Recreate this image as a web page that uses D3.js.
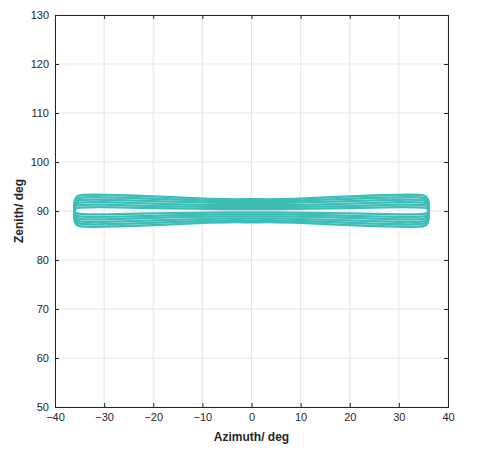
<!DOCTYPE html>
<html><head><meta charset="utf-8">
<script src="https://d3js.org/d3.v7.min.js"></script>
<style>body{margin:0;background:#fff}text{font-family:"Liberation Sans",Arial,sans-serif}</style>
</head><body>
<script>
// azimuth stations shared by all loops
var azimuths = [-36, -35, -30, -20, -12, -5, 0, 5, 12, 20, 30, 35, 36];
// zenith of upper edge for each loop
var upperLoops = [
  [92.0, 93.2, 93.3, 93.0, 92.6, 92.4, 92.4, 92.4, 92.6, 93.0, 93.3, 93.2, 92.0],
  [91.7, 92.7, 92.8, 92.5, 92.2, 92.0, 92.0, 92.0, 92.2, 92.5, 92.8, 92.7, 91.7],
  [91.3, 92.2, 92.3, 92.0, 91.8, 91.6, 91.6, 91.6, 91.8, 92.0, 92.3, 92.2, 91.3],
  [91.0, 91.7, 91.8, 91.5, 91.3, 91.2, 91.2, 91.2, 91.3, 91.5, 91.8, 91.7, 91.0],
  [90.7, 91.2, 91.3, 91.0, 90.9, 90.8, 90.8, 90.8, 90.9, 91.0, 91.3, 91.2, 90.7],
  [90.3, 90.7, 90.8, 90.6, 90.5, 90.4, 90.4, 90.4, 90.5, 90.6, 90.8, 90.7, 90.3]
];
// zenith of lower edge for each loop
var lowerLoops = [
  [88.0, 86.9, 86.8, 87.1, 87.5, 87.7, 87.7, 87.7, 87.5, 87.1, 86.8, 86.9, 88.0],
  [88.3, 87.4, 87.3, 87.6, 87.9, 88.1, 88.1, 88.1, 87.9, 87.6, 87.3, 87.4, 88.3],
  [88.7, 87.9, 87.8, 88.1, 88.3, 88.5, 88.5, 88.5, 88.3, 88.1, 87.8, 87.9, 88.7],
  [89.0, 88.4, 88.3, 88.6, 88.8, 88.9, 88.9, 88.9, 88.8, 88.6, 88.3, 88.4, 89.0],
  [89.3, 88.9, 88.8, 89.0, 89.2, 89.3, 89.3, 89.3, 89.2, 89.0, 88.8, 88.9, 89.3],
  [89.7, 89.4, 89.3, 89.5, 89.6, 89.7, 89.7, 89.7, 89.6, 89.5, 89.3, 89.4, 89.7]
];
var xTicks = [-40, -30, -20, -10, 0, 10, 20, 30, 40];
var yTicks = [50, 60, 70, 80, 90, 100, 110, 120, 130];

var margin = {top: 15, right: 31, bottom: 46, left: 55},
    width = 479 - margin.left - margin.right,
    height = 453 - margin.top - margin.bottom;

var svg = d3.select("body").append("svg")
    .attr("width", 479).attr("height", 453)
    .append("g")
    .attr("transform", "translate(" + margin.left + "," + margin.top + ")");

var x = d3.scaleLinear().domain([-40, 40]).range([0, width]);
var y = d3.scaleLinear().domain([50, 130]).range([height, 0]);

// grid
svg.append("g").selectAll("line").data(xTicks).enter().append("line")
    .attr("x1", d => x(d)).attr("x2", d => x(d)).attr("y1", 0).attr("y2", height)
    .attr("stroke", "#e6e6e6");
svg.append("g").selectAll("line").data(yTicks).enter().append("line")
    .attr("y1", d => y(d)).attr("y2", d => y(d)).attr("x1", 0).attr("x2", width)
    .attr("stroke", "#e6e6e6");

// loops
var line = d3.line()
    .x(d => x(d[0])).y(d => y(d[1]))
    .curve(d3.curveCardinalClosed.tension(0.3));
upperLoops.forEach(function (up, i) {
    var pts = azimuths.map((a, j) => [a, up[j]]);
    var low = azimuths.map((a, j) => [a, lowerLoops[i][j]]).reverse();
    svg.append("path")
        .attr("d", line(pts.concat(low)))
        .attr("fill", "none")
        .attr("stroke", "#3dbdb8")
        .attr("stroke-width", 2.3);
});

// axes (ticks inside)
svg.append("g").attr("transform", "translate(0," + height + ")")
    .call(d3.axisBottom(x).tickValues(xTicks).tickSize(-4).tickPadding(6));
svg.append("g")
    .call(d3.axisLeft(y).tickValues(yTicks).tickSize(-4).tickPadding(6));
svg.append("g").call(d3.axisTop(x).tickValues(xTicks).tickSize(-4).tickFormat(""));
svg.append("g").attr("transform", "translate(" + width + ",0)")
    .call(d3.axisRight(y).tickValues(yTicks).tickSize(-4).tickFormat(""));
svg.selectAll(".domain, .tick line").attr("stroke", "#262626");
svg.selectAll(".tick text").attr("fill", "#262626").style("font-size", "11px");

svg.append("text").attr("x", width / 2).attr("y", height + 34)
    .attr("text-anchor", "middle").style("font-size", "12px").style("font-weight", "bold")
    .attr("fill", "#262626").text("Azimuth/ deg");
svg.append("text").attr("transform", "translate(-32," + height / 2 + ") rotate(-90)")
    .attr("text-anchor", "middle").style("font-size", "12px").style("font-weight", "bold")
    .attr("fill", "#262626").text("Zenith/ deg");
</script>
</body></html>
